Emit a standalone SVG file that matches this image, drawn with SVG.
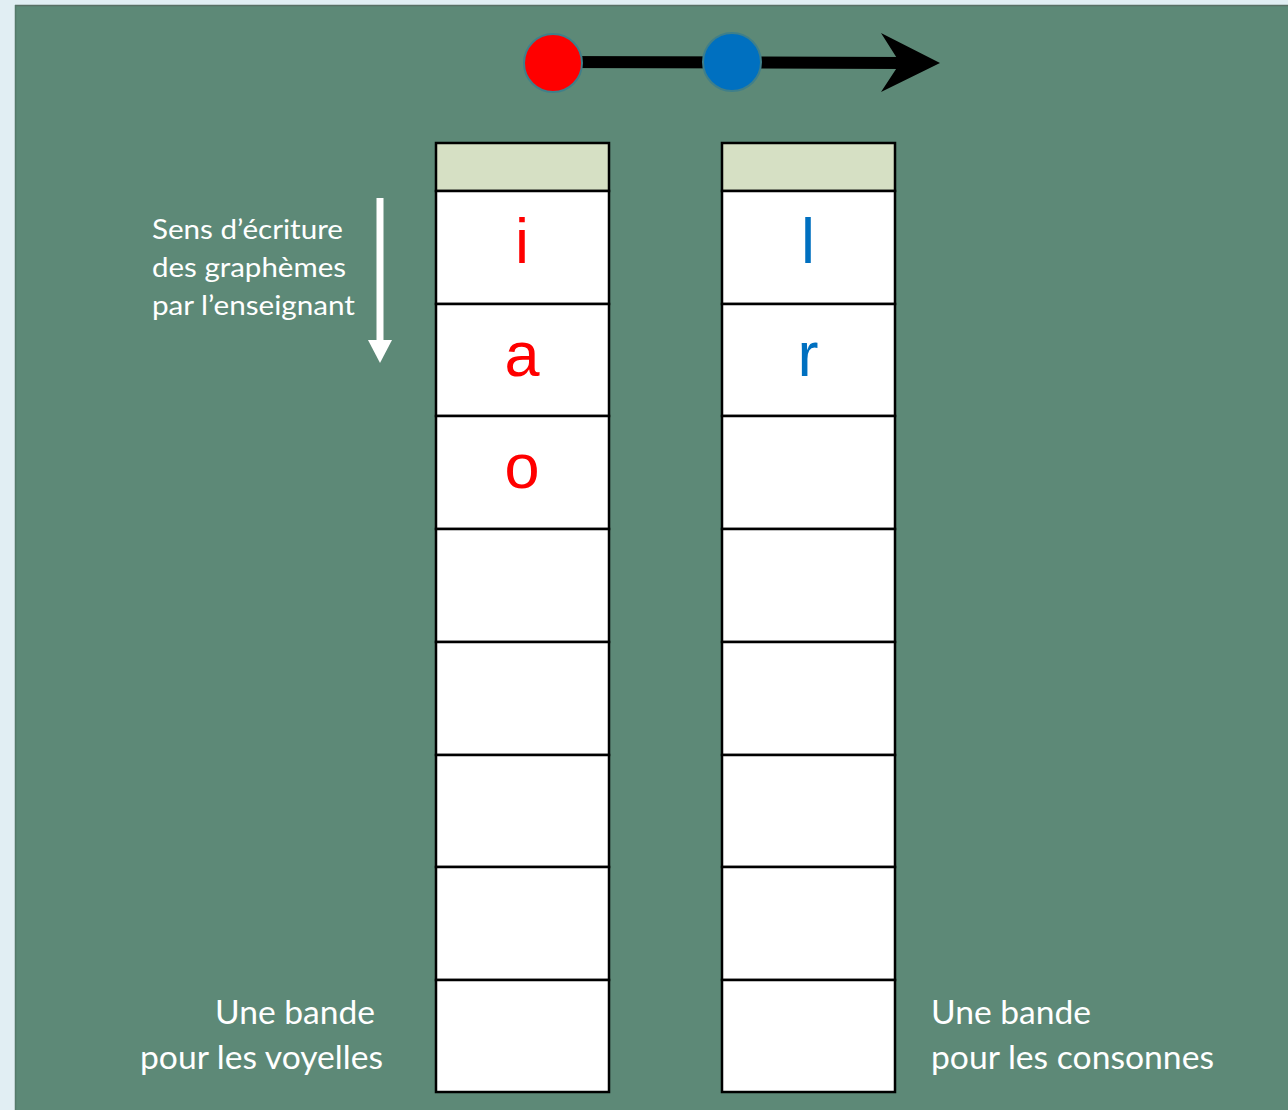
<svg xmlns="http://www.w3.org/2000/svg" width="1288" height="1110" viewBox="0 0 1288 1110">
<style>
.cell{fill:#ffffff;stroke:#000000;stroke-width:2.5}
.head{fill:#d6e0c4;stroke:#000000;stroke-width:2.5}
.letter{font-family:"Liberation Sans",Arial,sans-serif;font-size:63px;text-anchor:middle}
.vow{fill:#ff0000}
.con{fill:#0070c0}
.lbl{font-family:Lato,"Open Sans",sans-serif;fill:#ffffff}
</style>
<rect x="0" y="0" width="1288" height="1110" fill="#e1eef3"/>
<rect x="15" y="5" width="1273" height="1105" fill="#5d8977"/>
<line x1="15" y1="5.5" x2="1288" y2="5.5" stroke="#5a7066" stroke-width="1.5"/>
<line x1="15.5" y1="5" x2="15.5" y2="1110" stroke="#557a6a" stroke-width="1.5"/>

<g id="connectors">
  <line x1="553" y1="62" x2="905" y2="63" stroke="#000000" stroke-width="12"/>
  <polygon points="940,63 881,33 900,63 881,92" fill="#000000"/>
  <line x1="380" y1="198" x2="380" y2="342" stroke="#ffffff" stroke-width="7"/>
  <polygon points="368,340 392,340 380,363" fill="#ffffff"/>
</g>

<g id="dot-red"><circle cx="553" cy="63" r="29" fill="#ff0000" stroke="#3f7f8a" stroke-width="2"/></g>
<g id="dot-blue"><circle cx="732" cy="62" r="29" fill="#0070c0" stroke="#3f7f8a" stroke-width="2"/></g>

<g id="band-vowels">
  <rect class="head" x="436" y="143" width="173" height="48"/>
  <rect class="cell" x="436" y="191" width="173" height="113"/>
  <rect class="cell" x="436" y="304" width="173" height="112"/>
  <rect class="cell" x="436" y="416" width="173" height="113"/>
  <rect class="cell" x="436" y="529" width="173" height="113"/>
  <rect class="cell" x="436" y="642" width="173" height="113"/>
  <rect class="cell" x="436" y="755" width="173" height="112"/>
  <rect class="cell" x="436" y="867" width="173" height="113"/>
  <rect class="cell" x="436" y="980" width="173" height="112"/>
  <text class="letter vow" x="522" y="263">i</text>
  <text class="letter vow" x="522" y="376">a</text>
  <text class="letter vow" x="522" y="488">o</text>
</g>

<g id="band-consonants">
  <rect class="head" x="722" y="143" width="173" height="48"/>
  <rect class="cell" x="722" y="191" width="173" height="113"/>
  <rect class="cell" x="722" y="304" width="173" height="112"/>
  <rect class="cell" x="722" y="416" width="173" height="113"/>
  <rect class="cell" x="722" y="529" width="173" height="113"/>
  <rect class="cell" x="722" y="642" width="173" height="113"/>
  <rect class="cell" x="722" y="755" width="173" height="112"/>
  <rect class="cell" x="722" y="867" width="173" height="113"/>
  <rect class="cell" x="722" y="980" width="173" height="112"/>
  <text class="letter con" x="808" y="263">l</text>
  <text class="letter con" x="808" y="376">r</text>
</g>

<g id="label-direction" class="lbl" font-size="27">
  <text x="152" y="239" textLength="191" lengthAdjust="spacingAndGlyphs">Sens d’écriture</text>
  <text x="152" y="277" textLength="194" lengthAdjust="spacingAndGlyphs">des graphèmes</text>
  <text x="152" y="315" textLength="203" lengthAdjust="spacingAndGlyphs">par l’enseignant</text>
</g>

<g id="label-vowels" class="lbl" font-size="33">
  <text x="215" y="1024" textLength="160" lengthAdjust="spacingAndGlyphs">Une bande</text>
  <text x="140" y="1069" textLength="243" lengthAdjust="spacingAndGlyphs">pour les voyelles</text>
</g>

<g id="label-consonants" class="lbl" font-size="33">
  <text x="931" y="1024" textLength="160" lengthAdjust="spacingAndGlyphs">Une bande</text>
  <text x="931" y="1069" textLength="283" lengthAdjust="spacingAndGlyphs">pour les consonnes</text>
</g>
</svg>
